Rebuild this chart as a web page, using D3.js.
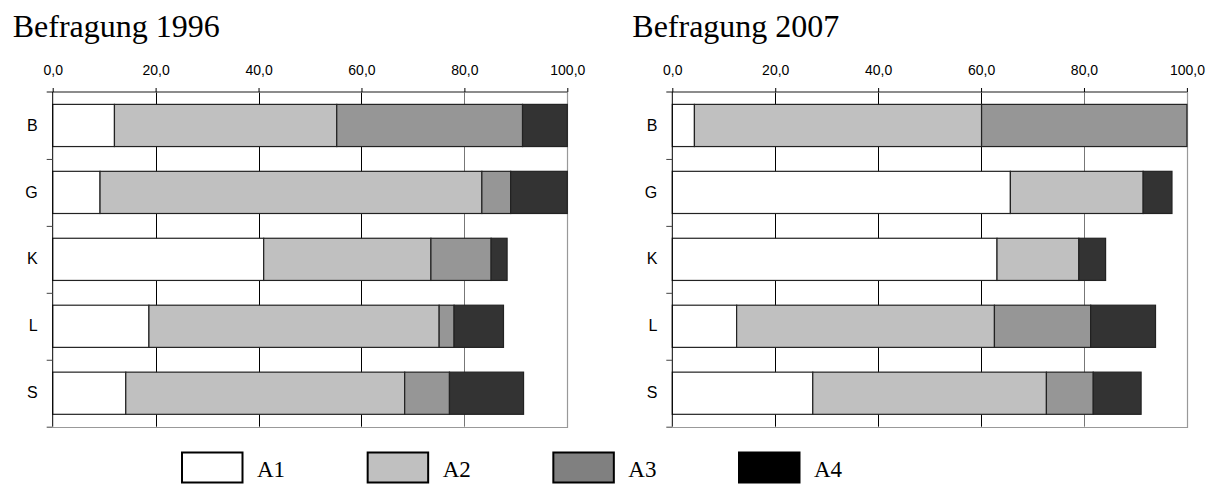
<!DOCTYPE html>
<html>
<head>
<meta charset="utf-8">
<script src="https://cdn.jsdelivr.net/npm/d3@7"></script>
<style>
  body { margin: 0; background: #fff; }
  svg { display: block; }
</style>
</head>
<body>
<div class="chart"></div>
<script>
var svgWidth = 1213;
var svgHeight = 484;

// categories, series, ticks
var categories = ["B", "G", "K", "L", "S"];
var seriesNames = ["A1", "A2", "A3", "A4"];
var xTicks = [0, 20, 40, 60, 80, 100];

// Befragung 1996 (per series, in category order)
var a1_1996 = [12.0, 9.2, 41.0, 18.7, 14.2];
var a2_1996 = [43.2, 74.2, 32.5, 56.4, 54.2];
var a3_1996 = [36.1, 5.6, 11.7, 2.9, 8.7];
var a4_1996 = [8.7, 11.0, 3.1, 9.6, 14.4];

// Befragung 2007
var a1_2007 = [4.3, 65.7, 63.1, 12.5, 27.3];
var a2_2007 = [55.8, 25.8, 15.9, 50.1, 45.4];
var a3_2007 = [39.9, 0, 0, 18.7, 9.1];
var a4_2007 = [0, 5.6, 5.2, 12.6, 9.3];

var barColors = ["#ffffff", "#c0c0c0", "#969696", "#333333"];
var legendColors = ["#ffffff", "#c0c0c0", "#808080", "#000000"];

var svg = d3.select(".chart")
  .append("svg")
  .attr("width", svgWidth)
  .attr("height", svgHeight);

var plotTop = 92, plotBottom = 426.7, plotW = 514.6;

function toRows(s1, s2, s3, s4) {
  return categories.map(function(c, i) {
    return { cat: c, A1: s1[i], A2: s2[i], A3: s3[i], A4: s4[i] };
  });
}

function drawChart(left, title, rows) {
  var g = svg.append("g");

  var x = d3.scaleLinear().domain([0, 100]).range([left, left + plotW]);
  var yBand = d3.scaleBand().domain(categories)
    .range([plotTop, plotBottom])
    .paddingInner(0.37).paddingOuter(0.185);
  var yLin = d3.scaleLinear().domain([0, categories.length]).range([plotTop, plotBottom]);

  // title
  g.append("text")
    .attr("x", left - 40)
    .attr("y", 37)
    .style("font-family", "'Liberation Serif', 'Times New Roman', serif")
    .style("font-size", "32px")
    .text(title);

  // vertical grid lines
  g.selectAll(".grid")
    .data([20, 40, 60, 80])
    .enter().append("line")
      .attr("x1", function(d) { return Math.round(x(d)) + 0.5; })
      .attr("x2", function(d) { return Math.round(x(d)) + 0.5; })
      .attr("y1", plotTop)
      .attr("y2", plotBottom)
      .attr("stroke", function(d) { return d === 80 ? "#777" : "#000"; })
      .attr("stroke-width", 1);

  // right + bottom frame
  g.append("path")
    .attr("d", "M" + (Math.round(x(100)) + 0.5) + "," + plotTop + "V" + (Math.round(plotBottom) + 0.5) + "H" + x(0))
    .attr("fill", "none")
    .attr("stroke", "#999")
    .attr("stroke-width", 1.2);

  // stacked bars
  var stack = d3.stack().keys(seriesNames)(rows);
  stack.forEach(function(layer, si) {
    g.selectAll(".bar" + si)
      .data(layer.filter(function(d) { return d[1] - d[0] > 0; }))
      .enter().append("rect")
        .attr("x", function(d) { return x(d[0]); })
        .attr("y", function(d) { return yBand(d.data.cat); })
        .attr("width", function(d) { return x(d[1]) - x(d[0]); })
        .attr("height", yBand.bandwidth())
        .attr("fill", barColors[si])
        .attr("stroke", "#222")
        .attr("stroke-width", 1.2);
  });

  // top axis
  var topAxis = d3.axisTop(x)
    .tickValues(xTicks)
    .tickSize(4)
    .tickPadding(13)
    .tickFormat(function(d) { return d3.format(".1f")(d).replace(".", ","); });
  var ta = g.append("g")
    .attr("transform", "translate(0," + plotTop + ")")
    .call(topAxis);
  ta.select(".domain").attr("stroke", "#666").attr("stroke-width", 1.6)
    .attr("d", "M" + (x(0) - 6) + ",0H" + x(100));
  ta.selectAll(".tick line").attr("stroke", "#000");
  ta.selectAll("text")
    .style("font-family", "'Liberation Sans', Arial, sans-serif")
    .style("font-size", "14px")
    .attr("fill", "#000");

  // left axis: tick marks at band edges
  var leftTicks = d3.axisLeft(yLin)
    .tickValues(d3.range(1, categories.length + 1))
    .tickSize(6)
    .tickFormat("");
  var la = g.append("g")
    .attr("transform", "translate(" + x(0) + ",0)")
    .call(leftTicks);
  la.select(".domain").attr("stroke", "#000").attr("d", "M0," + plotTop + "V" + plotBottom);
  la.selectAll(".tick line").attr("stroke", "#444");

  // category labels
  var catAxis = d3.axisLeft(yBand).tickSize(0).tickPadding(15);
  var ca = g.append("g")
    .attr("transform", "translate(" + x(0) + ",0)")
    .call(catAxis);
  ca.select(".domain").remove();
  ca.selectAll("text")
    .style("font-family", "'Liberation Sans', Arial, sans-serif")
    .style("font-size", "16px")
    .attr("fill", "#000");
}

drawChart(52.7, "Befragung 1996", toRows(a1_1996, a2_1996, a3_1996, a4_1996));
drawChart(672.3, "Befragung 2007", toRows(a1_2007, a2_2007, a3_2007, a4_2007));

// legend
var legendX = d3.scalePoint().domain(seriesNames).range([181, 738]);
var legend = svg.append("g");
seriesNames.forEach(function(name, i) {
  var lx = legendX(name);
  legend.append("rect")
    .attr("x", lx + 1)
    .attr("y", 452.5)
    .attr("width", 60.5)
    .attr("height", 30)
    .attr("fill", legendColors[i])
    .attr("stroke", "#000")
    .attr("stroke-width", 2);
  legend.append("text")
    .attr("x", lx + 76)
    .attr("y", 477)
    .style("font-family", "'Liberation Serif', 'Times New Roman', serif")
    .style("font-size", "23px")
    .text(name);
});
</script>
</body>
</html>
